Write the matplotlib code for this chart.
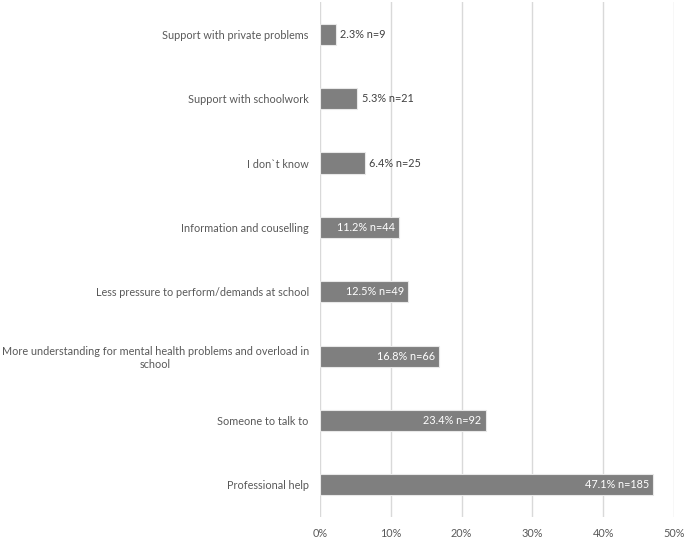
import matplotlib
matplotlib.use("Agg")
import matplotlib.pyplot as plt
from matplotlib.ticker import FuncFormatter

categories = [
    "Professional help",
    "Someone to talk to",
    "More understanding for mental health problems and overload in\nschool",
    "Less pressure to perform/demands at school",
    "Information and couselling",
    "I don`t know",
    "Support with schoolwork",
    "Support with private problems",
]
values = [47.1, 23.4, 16.8, 12.5, 11.2, 6.4, 5.3, 2.3]
counts = [185, 92, 66, 49, 44, 25, 21, 9]
xticks = [0, 10, 20, 30, 40, 50]

plt.rcParams['font.family'] = ['Lato', 'DejaVu Sans']
fig = plt.figure(figsize=(6.85, 5.38), dpi=100)
ax = fig.add_axes([0.467, 0.039, 0.517, 0.957])

ypos = list(range(len(categories)))
ax.barh(ypos, values, height=0.33, color="#7f7f7f", edgecolor="#e8e8e8", linewidth=0.8, zorder=3)

for y, v, n in zip(ypos, values, counts):
    label = f"{v}% n={n}"
    if v >= 10:
        ax.text(v - 0.6, y, label, ha="right", va="center", color="white", fontsize=7.8, zorder=4)
    else:
        ax.text(v + 0.6, y, label, ha="left", va="center", color="#404040", fontsize=7.8, zorder=4)

ax.set_xlim(0, 50)
ax.set_ylim(-0.5, len(categories) - 0.5)
ax.set_xticks(xticks)
ax.xaxis.set_major_formatter(FuncFormatter(lambda x, p: f"{int(x)}%"))
ax.set_yticks(ypos)
ax.set_yticklabels(categories, multialignment="center")
ax.tick_params(axis="both", length=0, labelsize=7.8, labelcolor="#595959")
ax.tick_params(axis="y", pad=8)
ax.tick_params(axis="x", pad=8)
ax.grid(axis="x", color="#d9d9d9", linewidth=1, zorder=0)
for s in ax.spines.values():
    s.set_visible(False)

fig.savefig("out.png", dpi=100)
